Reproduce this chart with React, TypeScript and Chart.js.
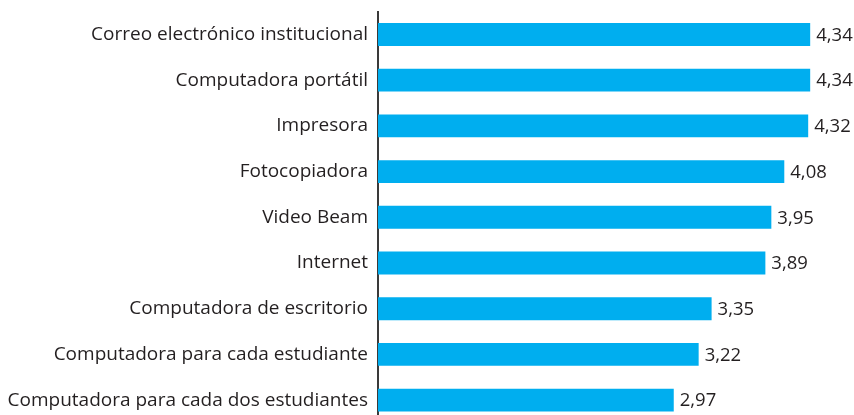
import React, { useEffect, useRef } from "react";
import { Chart, registerables } from "chart.js";

Chart.register(...registerables);

const categories = [
  "Correo electrónico institucional",
  "Computadora portátil",
  "Impresora",
  "Fotocopiadora",
  "Video Beam",
  "Internet",
  "Computadora de escritorio",
  "Computadora para cada estudiante",
  "Computadora para cada dos estudiantes",
];
const values = [4.34, 4.34, 4.32, 4.08, 3.95, 3.89, 3.35, 3.22, 2.97];

const FONT = "'Open Sans', 'Noto Sans', sans-serif";

const valueLabels = {
  id: "valueLabels",
  afterDatasetsDraw(chart: any) {
    const ctx = chart.ctx;
    const meta = chart.getDatasetMeta(0);
    ctx.save();
    ctx.font = `18.5px ${FONT}`;
    ctx.fillStyle = "#231f20";
    ctx.textAlign = "left";
    ctx.textBaseline = "middle";
    meta.data.forEach((el: any, i: number) => {
      const v = chart.data.datasets[0].data[i] as number;
      ctx.fillText(v.toFixed(2).replace(".", ","), el.x + 6, el.y + 1);
    });
    ctx.restore();
  },
};

export default function App() {
  const ref = useRef<HTMLCanvasElement>(null);
  useEffect(() => {
    document.body.style.margin = "0";
    if (!ref.current) return;
    const chart = new Chart(ref.current, {
      type: "bar",
      data: {
        labels: categories,
        datasets: [
          {
            data: values,
            backgroundColor: "#00aeef",
            borderWidth: 0,
            categoryPercentage: 1,
            barPercentage: 0.5,
          },
        ],
      },
      options: {
        indexAxis: "y",
        responsive: false,
        animation: false,
        layout: { padding: { top: 11.6, bottom: 1, right: 0, left: 0 } },
        plugins: { legend: { display: false }, tooltip: { enabled: false } },
        scales: {
          x: { display: false, min: 0, max: 4.78 },
          y: {
            grid: { display: false, drawTicks: false },
            border: { display: true, color: "#3a3a3a", width: 2 },
            ticks: {
              padding: 10,
              color: "#231f20",
              font: { family: FONT, size: 19 },
            },
            afterFit(scale: any) {
              scale.width = 378;
              scale.paddingTop = 0;
              scale.paddingBottom = 0;
            },
          },
        },
      },
      plugins: [valueLabels],
    });
    return () => chart.destroy();
  }, []);
  return <canvas ref={ref} width={854} height={424} style={{ display: "block" }} />;
}
